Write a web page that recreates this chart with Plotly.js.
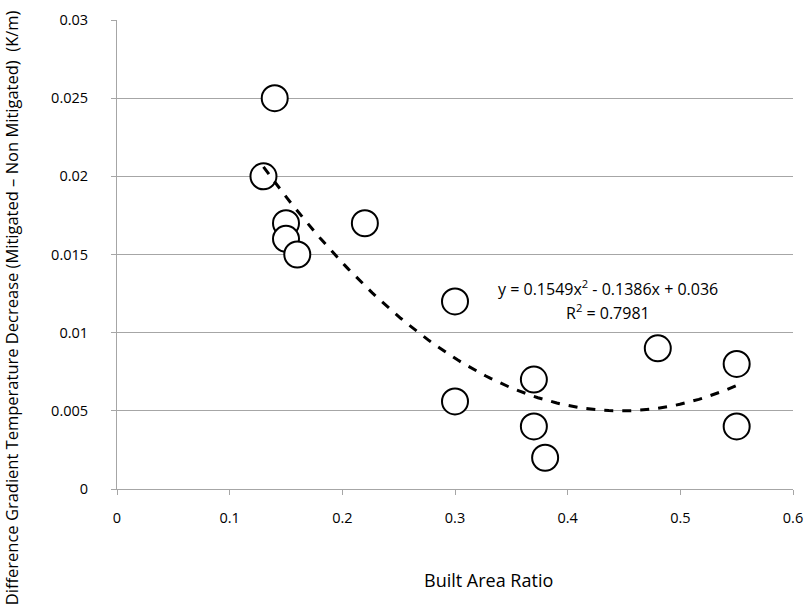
<!DOCTYPE html>
<html>
<head>
<meta charset="utf-8">
<script src="https://cdn.plot.ly/plotly-3.0.1.min.js"></script>
<style>html,body{margin:0;padding:0;background:#fff;}#chart{width:806px;height:615px;}</style>
</head>
<body>
<div id="chart"></div>
<script>
const builtAreaRatio = [0.13, 0.14, 0.15, 0.15, 0.16, 0.22, 0.30, 0.30, 0.37, 0.37, 0.38, 0.48, 0.55, 0.55];
const gradientDecrease = [0.020, 0.025, 0.017, 0.016, 0.015, 0.017, 0.012, 0.0056, 0.007, 0.004, 0.002, 0.009, 0.008, 0.004];
const trendCoefficients = [0.1549, -0.1386, 0.036];
const trendRange = [0.13, 0.55];
const xTicks = [0, 0.1, 0.2, 0.3, 0.4, 0.5, 0.6];
const yTicks = [0, 0.005, 0.01, 0.015, 0.02, 0.025, 0.03];
const xTitle = 'Built Area Ratio';
const yTitle = 'Difference Gradient Temperature Decrease (Mitigated \u2013 Non Mitigated)  (K/m)';
const equationText = 'y = 0.1549x<sup>2</sup> - 0.1386x + 0.036';
const r2Text = 'R<sup>2</sup> = 0.7981';

const trendX = [], trendY = [];
for (let i = 0; i <= 100; i++) {
  const x = trendRange[0] + (trendRange[1] - trendRange[0]) * i / 100;
  trendX.push(x);
  trendY.push(trendCoefficients[0] * x * x + trendCoefficients[1] * x + trendCoefficients[2]);
}

const font = "Open Sans, Noto Sans, sans-serif";
const data = [
  {x: builtAreaRatio, y: gradientDecrease, type: 'scatter', mode: 'markers',
   marker: {size: 26, color: '#ffffff', line: {color: '#000000', width: 2}}, hoverinfo: 'x+y'},
  {x: trendX, y: trendY, type: 'scatter', mode: 'lines',
   line: {color: '#000000', width: 3, dash: 'dash'}, hoverinfo: 'skip'}
];
const layout = {
  width: 806, height: 615,
  margin: {l: 117, r: 13, t: 20, b: 126},
  paper_bgcolor: '#fff', plot_bgcolor: '#fff',
  showlegend: false,
  font: {family: font, color: '#000', size: 14},
  xaxis: {range: [0, 0.6], tickvals: xTicks, ticktext: xTicks.map(String),
    showgrid: false, zeroline: false, showline: true, linecolor: '#a6a6a6', linewidth: 1,
    ticks: 'outside', ticklen: 5, tickcolor: '#a6a6a6', tickfont: {size: 14.5, family: font},
    ticklabelstandoff: 11},
  yaxis: {range: [0, 0.03], tickvals: yTicks, ticktext: yTicks.map(String),
    showgrid: true, gridcolor: '#a6a6a6', gridwidth: 1, zeroline: false,
    showline: true, linecolor: '#a6a6a6', linewidth: 1,
    ticks: 'outside', ticklen: 5, tickcolor: '#a6a6a6', tickfont: {size: 14.5, family: font},
    ticklabelstandoff: 20},
  annotations: [
    {xref: 'paper', yref: 'paper', x: 0.549, y: -0.193, xanchor: 'center', yanchor: 'middle', showarrow: false,
     text: xTitle, font: {size: 18, family: font}},
    {xref: 'paper', yref: 'paper', x: -0.155, y: 0.386, xanchor: 'center', yanchor: 'middle', showarrow: false,
     textangle: -90, text: yTitle, font: {size: 16.5, family: font}},
    {xref: 'paper', yref: 'paper', x: 0.727, y: 0.4286, xanchor: 'center', yanchor: 'middle', showarrow: false,
     text: equationText, font: {size: 16, family: font}},
    {xref: 'paper', yref: 'paper', x: 0.727, y: 0.3774, xanchor: 'center', yanchor: 'middle', showarrow: false,
     text: r2Text, font: {size: 16, family: font}}
  ]
};
Plotly.newPlot('chart', data, layout, {displayModeBar: false, staticPlot: true});
</script>
</body>
</html>
